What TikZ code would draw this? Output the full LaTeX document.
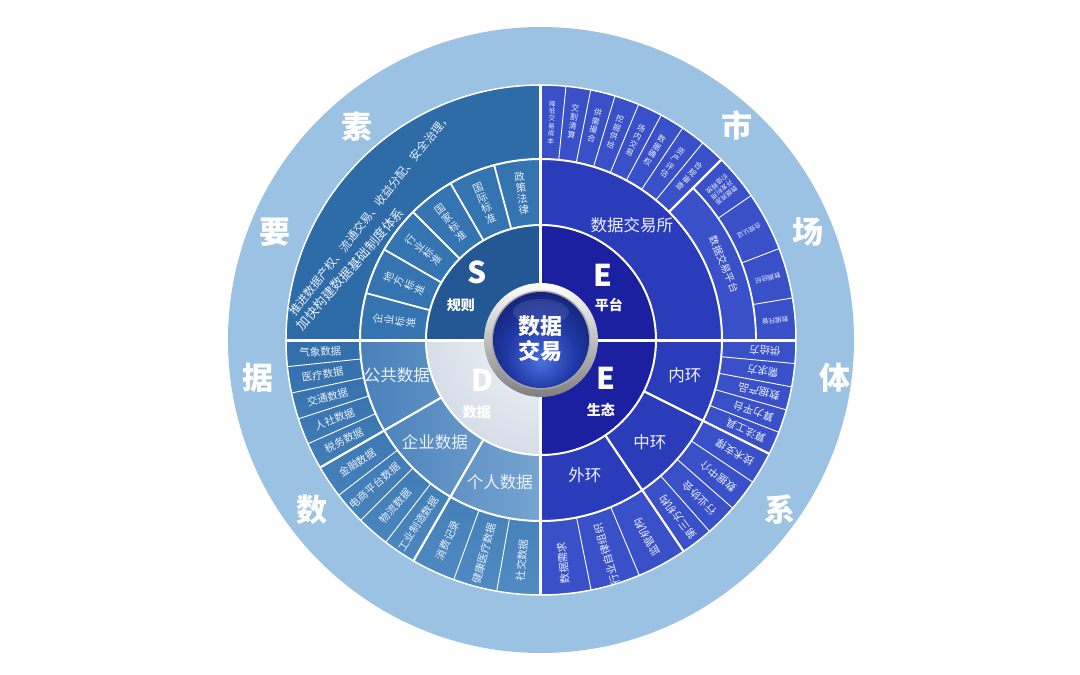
\documentclass[tikz,border=0pt]{standalone}
\usepackage{fontspec}
\setmainfont{Noto Sans CJK SC}
\usetikzlibrary{calc}
\definecolor{ringL}{RGB}{156,194,227}
\definecolor{sIn}{RGB}{36,88,148}
\definecolor{sMid}{RGB}{52,116,176}
\definecolor{sOut}{RGB}{46,108,168}
\definecolor{eIn}{RGB}{26,32,160}
\definecolor{eMid}{RGB}{42,60,186}
\definecolor{eOut}{RGB}{58,80,200}
\definecolor{dOutA}{RGB}{50,110,170}
\definecolor{dOutB}{RGB}{80,140,194}
\definecolor{dMidA}{RGB}{72,128,186}
\definecolor{dMidB}{RGB}{118,164,208}
\definecolor{dIn1}{RGB}{244,246,249}
\definecolor{dIn2}{RGB}{214,222,232}
\definecolor{dIn3}{RGB}{168,186,206}
\definecolor{txt}{RGB}{236,242,252}
\definecolor{sph1}{RGB}{72,112,222}
\definecolor{sph2}{RGB}{32,56,165}
\definecolor{sph3}{RGB}{12,20,92}
\pgfdeclareradialshading{dinner}{\pgfpoint{0bp}{0bp}}{color(0bp)=(dIn1); color(24bp)=(dIn2); color(50bp)=(dIn3)}
\pgfdeclareradialshading{sphere}{\pgfpoint{0bp}{-12bp}}{color(0bp)=(sph1); color(18bp)=(sph2); color(40bp)=(sph3); color(50bp)=(sph3)}
\newcommand\sect[5]{\path[#5] (#1:#3pt) arc[start angle=#1,end angle=#2,radius=#3pt] -- (#2:#4pt) arc[start angle=#2,end angle=#1,radius=#4pt] -- cycle;}
\newcommand\tightskip{\lineskiplimit=-20pt\lineskip=0pt\relax}
\tikzset{
 vlab/.style={align=center, inner sep=0pt, text=txt, font=\fontsize{10.5}{11.2}\selectfont\tightskip},
 vsm/.style={align=center, inner sep=0pt, text=txt, font=\fontsize{8}{9}\selectfont\tightskip},
 vxs/.style={align=center, inner sep=0pt, text=txt, font=\fontsize{6.5}{7.4}\selectfont\tightskip},
 rlab/.style={inner sep=0pt, text=txt, font=\fontsize{10.5}{11}\selectfont},
 tiny/.style={align=center, inner sep=0pt, text=txt, font=\fontsize{6.5}{7.5}\selectfont\tightskip},
 midlab/.style={inner sep=0pt, text=txt, font=\fontsize{16.5}{18}\selectfont},
 bigch/.style={inner sep=0pt, text=white, font=\bfseries\fontsize{31}{31}\selectfont},
 letter/.style={inner sep=0pt, text=white, font=\bfseries\fontsize{30}{30}\selectfont},
 sublab/.style={inner sep=0pt, text=white, font=\bfseries\fontsize{14}{14}\selectfont},
 wline/.style={white, line width=#1},
}
\begin{document}
\begin{tikzpicture}[x=1pt,y=1pt]
\useasboundingbox (-541,-335) rectangle (539,340);
\fill[white] (-541,-335) rectangle (539,340);
% outer light ring
\fill[ringL] (0,0) circle (313pt);
% ---- S quadrant
\sect{90}{180}{30}{115}{fill=sIn}
\sect{90}{180}{115}{181}{fill=sMid}
\sect{90}{180}{181}{255}{fill=sOut}
% ---- E platform
\sect{0}{90}{30}{115}{fill=eIn}
\sect{0}{90}{115}{181}{fill=eMid}
\sect{0}{90}{181}{255}{fill=eOut}
% ---- E ecology
\sect{-90}{0}{30}{115}{fill=eIn}
\sect{-90}{0}{115}{181}{fill=eMid}
\sect{-90}{0}{181}{255}{fill=eOut}
% ---- D quadrant
\begin{scope}
\clip (180:181pt) arc[start angle=180,end angle=270,radius=181pt] -- (270:255pt) arc[start angle=270,end angle=180,radius=255pt] -- cycle;
\shade[top color=dOutA, bottom color=dOutB] (-256,-256) rectangle (0,0);
\end{scope}
\begin{scope}
\clip (180:115pt) arc[start angle=180,end angle=270,radius=115pt] -- (270:181pt) arc[start angle=270,end angle=180,radius=181pt] -- cycle;
\shade[left color=dMidA, right color=dMidB] (-182,-182) rectangle (0,0);
\end{scope}
\begin{scope}
\clip (0,0) -- (180:116pt) arc[start angle=180,end angle=270,radius=116pt] -- cycle;
\shade[shading=dinner] (0,0) circle (115pt);
\end{scope}
% ---- thin radial dividers
\foreach \k in {1,...,7}{\pgfmathsetmacro\a{45+5.625*\k}\draw[wline=0.9pt] (\a:181pt) -- (\a:255pt);}
\foreach \a in {34.5,21,9.5}{\draw[wline=0.9pt] (\a:215pt) -- (\a:255pt);}
\foreach \a in {-5.3,-10.6,-15.9,-21.2,-33.875,-41.25,-48.625,-67.333,-78.667}{\draw[wline=0.9pt] (\a:181pt) -- (\a:255pt);}
\foreach \a in {186,192,198,204,217.5,225,232.5,250,260}{\draw[wline=0.9pt] (\a:181pt) -- (\a:255pt);}
\foreach \a in {105,120,135,150,165}{\draw[wline=1.8pt] (\a:115pt) -- (\a:181pt);}
% ---- group dividers
\draw[wline=2.2pt] (45:181pt) -- (45:255pt);
\foreach \a in {-26.5,-56,210,240}{\draw[wline=2.2pt] (\a:115pt) -- (\a:255pt);}
\draw[wline=1.8pt] (0:215pt) arc[start angle=0,end angle=45,radius=215pt];
% ---- ring circles
\draw[wline=2pt] (0,0) circle (115pt);
\draw[wline=2pt] (0,0) circle (181pt);
\draw[wline=1.5pt] (0,0) circle (255pt);
\draw[wline=3pt] (-255,0) -- (255,0);
\draw[wline=3pt] (0,-255) -- (0,255);
% ---- S middle labels
\foreach \ang/\lab [count=\k] in {97.5/{政\\策\\法\\律},112.5/{国\\际\\标\\准},127.5/{国\\家\\标\\准},142.5/{行\\业\\标\\准},157.5/{地\\方\\标\\准},172.5/{企\\业\\标\\准}}{
  \pgfmathsetmacro\rot{\ang-90}
  \node[vlab, rotate=\rot] (sm\k) at (\ang:148pt) {\lab};
}
% ---- S outer text
\node[inner sep=0pt, text=txt, font=\fontsize{11.5}{12}\selectfont, rotate=52, anchor=west] (sline1) at (-249,26) {推进数据产权、流通交易、收益分配、安全治理，};
\node[inner sep=0pt, text=txt, font=\fontsize{13}{13}\selectfont, rotate=49, anchor=west] (sline2) at (-242,12) {加快构建数据基础制度体系};
% ---- E platform labels
\node[midlab] (ejys) at (91,115) {数据交易所};
\node[vxs, rotate=-2.8125] (et0) at (87.1875:218pt) {降\\低\\交\\易\\成\\本};
\foreach \ang/\lab [count=\k] in {81.5625/{交\\割\\清\\算},75.9375/{供\\需\\撮\\合},70.3125/{挖\\掘\\供\\给},64.6875/{场\\内\\交\\易},59.0625/{数\\据\\确\\权},53.4375/{资\\产\\评\\估},47.8125/{合\\规\\审\\查}}{
  \pgfmathsetmacro\rot{\ang-90}
  \node[vsm, rotate=\rot] (et\k) at (\ang:221pt) {\lab};
}
\node[inner sep=0pt, text=txt, font=\fontsize{10}{10}\selectfont, rotate=-67.5] (eplat) at (22.5:198pt) {数据交易平台};
\node[tiny, rotate=219.75] (es1) at (39.75:235pt) {数据资源\\开发利用\\价值释放};
\foreach \ang/\lab [count=\k] in {27.75/合规认证,15.25/数据经纪,4.75/数据托管}{
  \pgfmathsetmacro\rot{\ang+180}
  \node[tiny, rotate=\rot] (es\k x) at (\ang:235pt) {\lab};
}
% ---- E ecology labels
\node[midlab] (enh) at (144,-35) {内环};
\node[midlab] (ezh) at (109,-102) {中环};
\node[midlab] (ewh) at (44,-135) {外环};
\foreach \ang/\lab [count=\k] in {-2.65/供给方,-7.95/需求方,-13.25/数据产品,-18.55/算力平台,-23.85/算法工具,-30.1875/技术支撑,-37.5625/数据中介,-44.9375/行业协会,-52.3125/第三方机构,-61.667/监管机构,-73/行业自律组织,-84.333/数据需求}{
  \pgfmathsetmacro\rot{\ang+180}
  \node[rlab, rotate=\rot] (eo\k) at (\ang:224pt) {\lab};
}
% ---- D labels
\node[midlab] (dgg) at (-144,-35) {公共数据};
\node[midlab] (dqy) at (-106,-102) {企业数据};
\node[midlab] (dgr) at (-41,-142) {个人数据};
\foreach \ang/\lab [count=\k] in {183/气象数据,189/医疗数据,195/交通数据,201/人社数据,207/税务数据,213.75/金融数据,221.25/电商平台数据,228.75/物流数据,236.25/工业制造数据,245/消费记录,255/健康医疗数据,265/社交数据}{
  \pgfmathsetmacro\rot{\ang+180}
  \node[rlab, rotate=\rot] (do\k) at (\ang:221pt) {\lab};
}
% ---- inner letters
\node[letter] (ls) at (-64,68) {S};
\node[sublab] (lsr) at (-80,35) {规则};
\node[letter] (lp) at (62,65) {E};
\node[sublab] (lpr) at (68,35) {平台};
\node[letter] (le) at (65,-38) {E};
\node[sublab] (ler) at (60,-70) {生态};
\node[letter, text=white] (ld) at (-59,-40) {D};
\node[sublab, text=white] (ldr) at (-64,-72) {数据};
% ---- outer ring big characters
\node[bigch] (c1) at (-229,-170) {数};
\node[bigch] (c2) at (-283,-38) {据};
\node[bigch] (c3) at (-266,108) {要};
\node[bigch] (c4) at (-184,213) {素};
\node[bigch] (c5) at (196,215) {市};
\node[bigch] (c6) at (267,108) {场};
\node[bigch] (c7) at (294,-38) {体};
\node[bigch] (c8) at (239,-170) {系};
% ---- central bubble
\shade[top color=white, bottom color=black!50] (0,0) circle (57pt);
\fill[black!35] (0,0) circle (49.5pt);
\shade[shading=sphere] (0,0) circle (48pt);
\fill[white, opacity=0.1] (0,28) ellipse (28pt and 13pt);
\node[inner sep=0pt, align=center, text=white, font=\bfseries\fontsize{22}{25}\selectfont] (core) at (0,1) {数据\\交易};
\end{tikzpicture}
\end{document}
